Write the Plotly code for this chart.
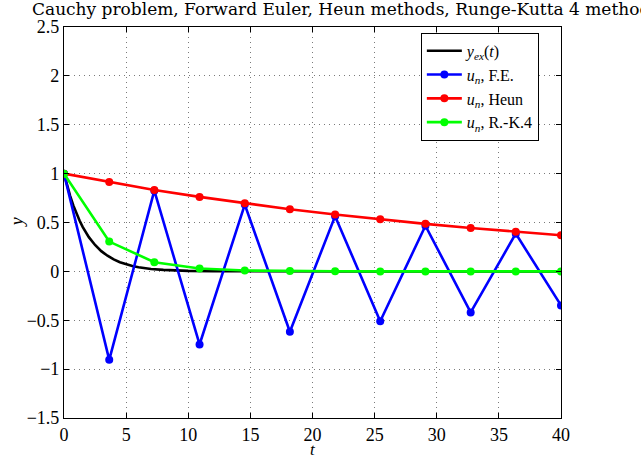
import plotly.graph_objects as go

# Time nodes of the discrete schemes (11 steps on [0, 40])
t_nodes = [0.0, 3.64, 7.27, 10.91, 14.55, 18.18, 21.82, 25.45, 29.09, 32.73, 36.36, 40.0]

# Numerical solutions at the nodes
u_fe = [1.0, -0.905, 0.826, -0.748, 0.683, -0.618, 0.565, -0.51, 0.467, -0.42, 0.386, -0.348]
u_heun = [1.0, 0.914, 0.833, 0.762, 0.697, 0.636, 0.582, 0.532, 0.486, 0.444, 0.406, 0.369]
u_rk4 = [1.0, 0.305, 0.094, 0.029, 0.009, 0.003, 0.001, 0.0, 0.0, 0.0, 0.0, 0.0]

# Exact solution y_ex(t), sampled on a finer grid
t_ex = [0, 0.25, 0.5, 0.75, 1, 1.25, 1.5, 1.75, 2, 2.5, 3, 3.5, 4, 4.5, 5, 5.5, 6, 7, 8, 9, 10,
        12, 14, 16, 20, 25, 30, 35, 40]
y_ex = [1.0, 0.877, 0.77, 0.675, 0.592, 0.52, 0.455, 0.4, 0.35, 0.27, 0.207, 0.16, 0.122,
        0.094, 0.072, 0.056, 0.043, 0.025, 0.015, 0.009, 0.005, 0.002, 0.0006, 0.0002, 0.0,
        0.0, 0.0, 0.0, 0.0]

x_ticks = [0, 5, 10, 15, 20, 25, 30, 35, 40]
y_ticks = [-1.5, -1, -0.5, 0, 0.5, 1, 1.5, 2, 2.5]
y_tick_text = ["\u22121.5", "\u22121", "\u22120.5", "0", "0.5", "1", "1.5", "2", "2.5"]

SERIF = "Liberation Serif"

fig = go.Figure()
fig.add_trace(go.Scatter(x=t_ex, y=y_ex, mode="lines", line=dict(color="black", width=2.6),
                         name="<i>y</i><sub><i>ex</i></sub>(<i>t</i>)"))
fig.add_trace(go.Scatter(x=t_nodes, y=u_fe, mode="lines+markers",
                         line=dict(color="#0000ff", width=2.6), marker=dict(size=8, color="#0000ff"),
                         name="<i>u</i><sub><i>n</i></sub>, F.E."))
fig.add_trace(go.Scatter(x=t_nodes, y=u_heun, mode="lines+markers",
                         line=dict(color="#ff0000", width=2.6), marker=dict(size=8, color="#ff0000"),
                         name="<i>u</i><sub><i>n</i></sub>, Heun"))
fig.add_trace(go.Scatter(x=t_nodes, y=u_rk4, mode="lines+markers",
                         line=dict(color="#00ff00", width=2.6), marker=dict(size=8, color="#00ff00"),
                         name="<i>u</i><sub><i>n</i></sub>, R.-K.4"))

axis_common = dict(
    showline=True, linecolor="black", linewidth=1.2, mirror="ticks",
    ticks="inside", ticklen=5, tickcolor="black", tickwidth=1,
    showgrid=True, gridcolor="#7a7a7a", griddash="1px,4px", gridwidth=1,
    zeroline=False, tickfont=dict(family=SERIF, size=18, color="black"),
)

fig.update_xaxes(range=[0, 40], tickvals=x_ticks, **axis_common)
fig.update_yaxes(range=[-1.5, 2.5], tickvals=y_ticks, ticktext=y_tick_text, **axis_common)

fig.update_layout(
    width=641, height=459,
    margin=dict(l=64, r=80, t=27, b=41),
    paper_bgcolor="white", plot_bgcolor="white",
    showlegend=True,
    legend=dict(x=0.718, y=0.985, xanchor="left", yanchor="top",
                bgcolor="white", bordercolor="black", borderwidth=1,
                font=dict(family=SERIF, size=16, color="black"),
                tracegroupgap=0, itemwidth=35),
    annotations=[
        dict(text="Cauchy problem, Forward Euler, Heun methods, Runge-Kutta 4 methods",
             xref="paper", yref="paper", x=-0.068, y=1.045, xanchor="left", yanchor="middle",
             showarrow=False, font=dict(family="DejaVu Serif", size=17, color="black")),
        dict(text="<i>y</i>", xref="paper", yref="paper", x=-0.095, y=0.5, textangle=-90,
             xanchor="center", yanchor="middle", showarrow=False,
             font=dict(family=SERIF, size=18, color="black")),
        dict(text="<i>t</i>", xref="paper", yref="paper", x=0.5, y=-0.081,
             xanchor="center", yanchor="middle", showarrow=False,
             font=dict(family=SERIF, size=17, color="black")),
    ],
)

fig.write_html("out.html")
